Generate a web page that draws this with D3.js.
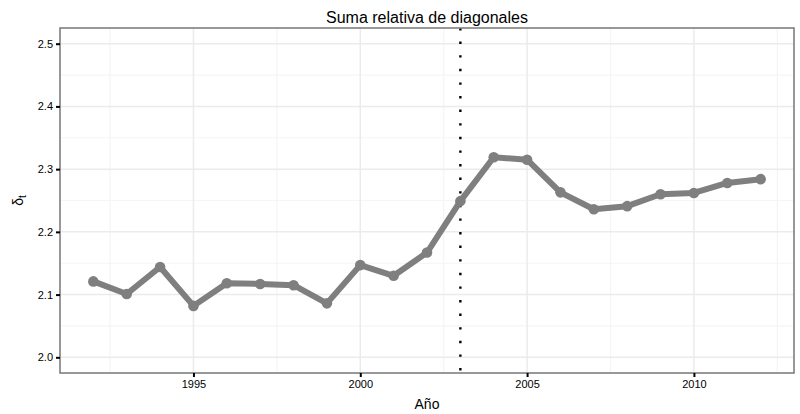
<!DOCTYPE html>
<html>
<head>
<meta charset="utf-8">
<script src="https://cdn.jsdelivr.net/npm/d3@7"></script>
<style>
  html, body { margin: 0; padding: 0; background: #fff; }
  svg { display: block; font-family: "Liberation Sans", Arial, Helvetica, sans-serif; }
</style>
</head>
<body>
<svg id="chart" width="800" height="414"></svg>
<script>
// Relative sum of diagonals per year
const years = [1992, 1993, 1994, 1995, 1996, 1997, 1998, 1999, 2000, 2001, 2002,
               2003, 2004, 2005, 2006, 2007, 2008, 2009, 2010, 2011, 2012];
const delta = [2.121, 2.101, 2.144, 2.082, 2.118, 2.117, 2.115, 2.086, 2.147, 2.130, 2.167,
               2.249, 2.319, 2.315, 2.263, 2.236, 2.241, 2.260, 2.262, 2.278, 2.284];
const xTicks = [1995, 2000, 2005, 2010];
const xMinor = [1992.5, 1997.5, 2002.5, 2007.5, 2012.5];
const yTicks = [2.0, 2.1, 2.2, 2.3, 2.4, 2.5];
const yMinor = [2.05, 2.15, 2.25, 2.35, 2.45];
const breakYear = 2003;

const svg = d3.select("#chart");
const panel = { left: 60, right: 794, top: 28, bottom: 373 };

const x = d3.scaleLinear().domain([1991, 2013]).range([panel.left, panel.right]);
const y = d3.scaleLinear().domain([1.975, 2.525]).range([panel.bottom, panel.top]);

// grid
const grid = svg.append("g");
grid.selectAll(".ymin").data(yMinor).join("line")
  .attr("x1", panel.left).attr("x2", panel.right)
  .attr("y1", d => y(d)).attr("y2", d => y(d))
  .attr("stroke", "#f5f5f5").attr("stroke-width", 1.2);
grid.selectAll(".xmin").data(xMinor).join("line")
  .attr("y1", panel.top).attr("y2", panel.bottom)
  .attr("x1", d => x(d)).attr("x2", d => x(d))
  .attr("stroke", "#f5f5f5").attr("stroke-width", 1.2);
grid.selectAll(".ymaj").data(yTicks).join("line")
  .attr("x1", panel.left).attr("x2", panel.right)
  .attr("y1", d => y(d)).attr("y2", d => y(d))
  .attr("stroke", "#ebebeb").attr("stroke-width", 1.5);
grid.selectAll(".xmaj").data(xTicks).join("line")
  .attr("y1", panel.top).attr("y2", panel.bottom)
  .attr("x1", d => x(d)).attr("x2", d => x(d))
  .attr("stroke", "#ebebeb").attr("stroke-width", 1.5);

// reference year
svg.append("line")
  .attr("x1", x(breakYear)).attr("x2", x(breakYear))
  .attr("y1", panel.top).attr("y2", panel.bottom)
  .attr("stroke", "#000").attr("stroke-width", 2.4)
  .attr("stroke-dasharray", "2.4 11.2");

// series
const pts = years.map((yr, i) => [yr, delta[i]]);
svg.append("path")
  .datum(pts)
  .attr("fill", "none")
  .attr("stroke", "#7f7f7f")
  .attr("stroke-width", 6)
  .attr("stroke-linejoin", "round")
  .attr("d", d3.line().x(d => x(d[0])).y(d => y(d[1])));
svg.append("g").selectAll("circle").data(pts).join("circle")
  .attr("cx", d => x(d[0])).attr("cy", d => y(d[1]))
  .attr("r", 5.3).attr("fill", "#7f7f7f");

// panel border
svg.append("rect")
  .attr("x", panel.left).attr("y", panel.top)
  .attr("width", panel.right - panel.left).attr("height", panel.bottom - panel.top)
  .attr("fill", "none").attr("stroke", "#7f7f7f").attr("stroke-width", 1.6);

// axes
const xAxis = svg.append("g")
  .attr("transform", `translate(0,${panel.bottom})`)
  .call(d3.axisBottom(x).tickValues(xTicks).tickFormat(d3.format("d")).tickSize(4).tickPadding(3));
const yAxis = svg.append("g")
  .attr("transform", `translate(${panel.left},0)`)
  .call(d3.axisLeft(y).tickValues(yTicks).tickFormat(d3.format(".1f")).tickSize(4).tickPadding(3));
[xAxis, yAxis].forEach(a => {
  a.select(".domain").remove();
  a.selectAll(".tick line").attr("stroke", "#000").attr("stroke-width", 2);
  a.selectAll(".tick text").attr("fill", "#000").attr("font-size", 11)
    .attr("font-family", "Liberation Sans, Arial, sans-serif");
});

// titles
const cx = (panel.left + panel.right) / 2;
svg.append("text").attr("x", cx).attr("y", 23)
  .attr("text-anchor", "middle").attr("font-size", 16).attr("fill", "#000")
  .text("Suma relativa de diagonales");
svg.append("text").attr("x", cx).attr("y", 409)
  .attr("text-anchor", "middle").attr("font-size", 14).attr("fill", "#000")
  .text("Año");
const yl = svg.append("text")
  .attr("transform", `translate(23,${(panel.top + panel.bottom) / 2}) rotate(-90)`)
  .attr("text-anchor", "middle").attr("font-size", 14).attr("fill", "#000");
yl.append("tspan").text("δ");
yl.append("tspan").attr("font-size", 10).attr("dy", 3).text("t");
</script>
</body>
</html>
